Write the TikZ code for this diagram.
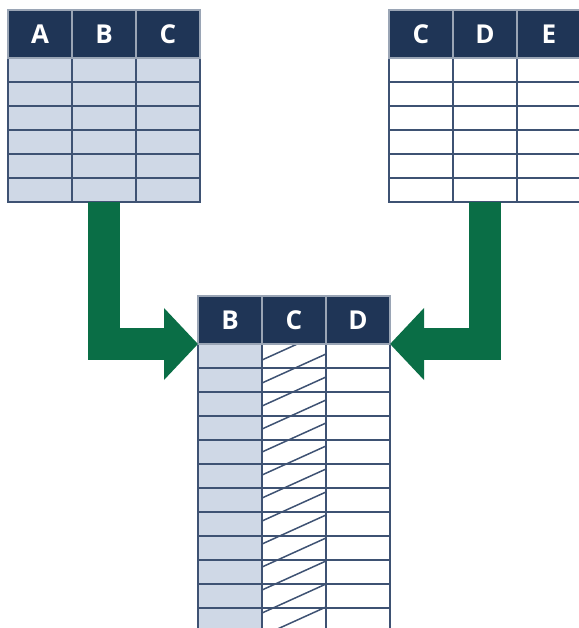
\documentclass[tikz,border=0pt]{standalone}
\usepackage{fontspec}
\setmainfont{Open Sans}
\usetikzlibrary{positioning,arrows.meta}

\definecolor{navy}{HTML}{1F3556}
\definecolor{paleblue}{HTML}{CFD8E6}
\definecolor{gridblue}{HTML}{3E5273}
\definecolor{hdrgray}{HTML}{9AA5B5}
\definecolor{flowgreen}{HTML}{0A6E46}

\tikzset{
  hdr/.style={fill=navy, draw=hdrgray, line width=1.2pt, outer sep=0pt,
    minimum width=64pt, minimum height=48pt, inner sep=0pt,
    text=white, font=\fontsize{26}{26}\selectfont\bfseries},
  gridline/.style={draw=gridblue, line width=1.6pt},
  hatch/.style={draw=gridblue, line width=1.5pt},
  flow/.style={draw=flowgreen, line width=32pt, line join=miter,
    -{Triangle[length=34pt,width=70pt]}}
}

\begin{document}
\begin{tikzpicture}[x=1pt,y=-1pt]
    \useasboundingbox (0,0) rectangle (578,628);

    % Left table: body
    \fill[paleblue] (8,58) rectangle (200,202);
    \foreach \y in {82,106,...,178}
        \draw[gridline] (8,\y) -- (200,\y);
    \foreach \x in {72,136}
        \draw[gridline] (\x,58) -- (\x,202);
    \draw[gridline] (8,58) rectangle (200,202);
    \coordinate (lbot) at (104,202);

    % Left table: header
    \node[hdr] (lA) at (40,34) {A};
    \node[hdr, right=0pt of lA] (lB) {B};
    \node[hdr, right=0pt of lB] (lC) {C};

    % Right table: body
    \fill[white] (389,58) rectangle (581,202);
    \foreach \y in {82,106,...,178}
        \draw[gridline] (389,\y) -- (581,\y);
    \foreach \x in {453,517}
        \draw[gridline] (\x,58) -- (\x,202);
    \draw[gridline] (389,58) rectangle (581,202);
    \coordinate (rbot) at (485,202);

    % Right table: header
    \node[hdr] (rC) at (421,34) {C};
    \node[hdr, right=0pt of rC] (rD) {D};
    \node[hdr, right=0pt of rD] (rE) {E};

    % Joined table: body
    \fill[paleblue] (198,344) rectangle (262,640);
    \begin{scope}
        \clip (262,344) rectangle (326,640);
        \foreach \y in {360,383,...,700}
            \draw[hatch] (262,\y) -- (326,\y-29);
    \end{scope}
    \foreach \y in {368,392,...,632}
        \draw[gridline] (198,\y) -- (390,\y);
    \foreach \x in {262,326}
        \draw[gridline] (\x,344) -- (\x,640);
    \draw[gridline] (198,344) rectangle (390,640);

    % Joined table: header
    \node[hdr] (bB) at (230,320) {B};
    \node[hdr, right=0pt of bB] (bC) {C};
    \node[hdr, right=0pt of bC] (bD) {D};

    % Arrows into the joined table
    \draw[flow] (lB |- lbot) |- (bB.south west);
    \draw[flow] (rD |- rbot) |- (bD.south east);

\end{tikzpicture}
\end{document}
